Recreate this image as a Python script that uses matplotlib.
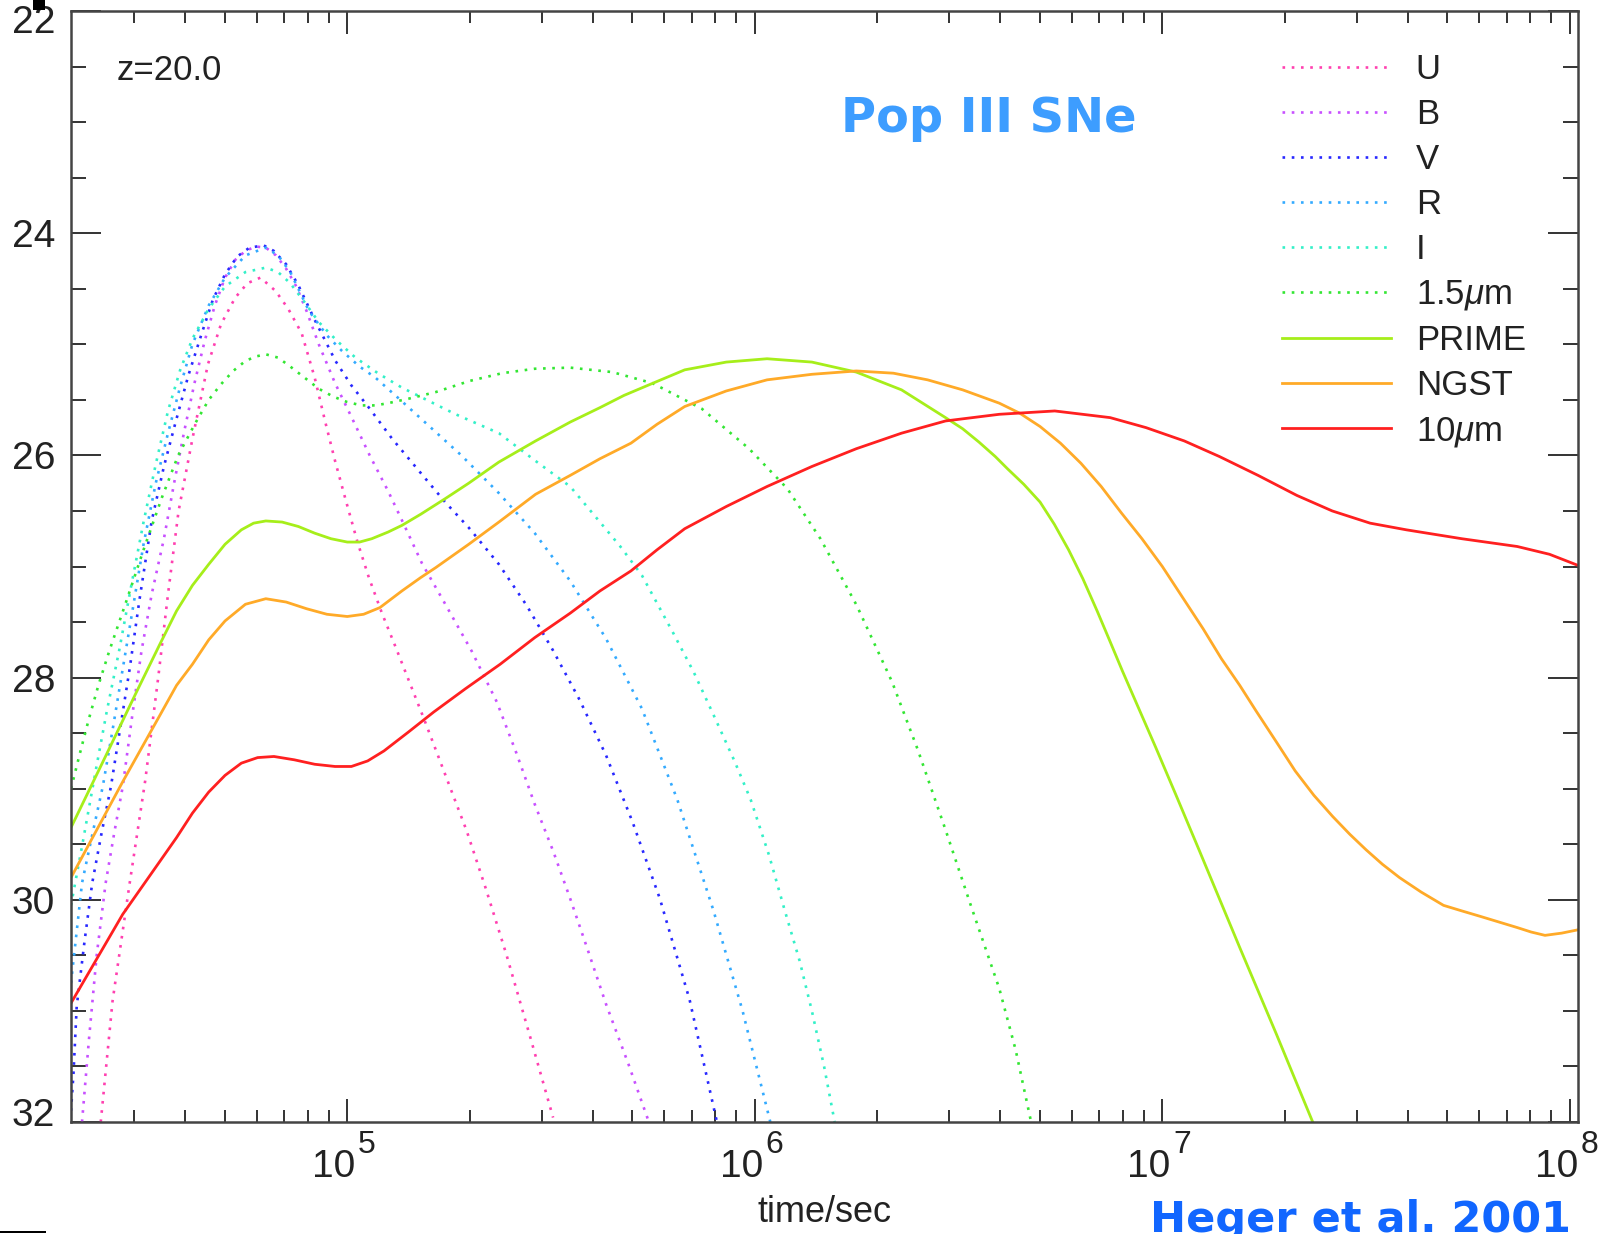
import numpy as np
import matplotlib
matplotlib.use("Agg")
import matplotlib.pyplot as plt
from matplotlib.ticker import LogLocator, MultipleLocator, NullFormatter
from matplotlib.transforms import blended_transform_factory, offset_copy, ScaledTranslation
from matplotlib.patches import Rectangle

plt.rcParams['font.family'] = ['Liberation Sans', 'DejaVu Sans']
plt.rcParams['mathtext.fontset'] = 'custom'
plt.rcParams['mathtext.rm'] = 'Liberation Sans'
plt.rcParams['mathtext.it'] = 'Liberation Sans:italic'

# light curves of a Pop III pair-instability SN at z=20
# x: log10(time / sec), y: apparent magnitude
u_logt = [4.395, 4.424, 4.466, 4.504, 4.536, 4.56, 4.586, 4.62, 4.658, 4.69, 4.725, 4.755,
          4.787, 4.824, 4.855, 4.888, 4.92, 4.946, 4.97, 4.996, 5.025, 5.053, 5.085, 5.118,
          5.188, 5.24, 5.293, 5.34, 5.391, 5.45, 5.505]
u_mag = [32.0, 30.91, 29.85, 28.93, 28.0, 27.25, 26.5, 25.85, 25.18, 24.82, 24.58, 24.45,
         24.40, 24.52, 24.68, 24.9, 25.3, 25.7, 26.05, 26.4, 26.78, 27.1, 27.42, 27.72,
         28.37, 28.87, 29.38, 29.9, 30.5, 31.25, 31.96]

b_logt = [4.349, 4.366, 4.385, 4.407, 4.428, 4.449, 4.472, 4.495, 4.52, 4.55, 4.575, 4.60,
          4.625, 4.65, 4.675, 4.70, 4.725, 4.75, 4.775, 4.80, 4.825, 4.85, 4.875, 4.90,
          4.93, 4.97, 5.011, 5.055, 5.10, 5.14, 5.183, 5.236, 5.305, 5.367, 5.415, 5.46,
          5.505, 5.547, 5.59, 5.635, 5.69, 5.74]
b_mag = [32.0, 31.26, 30.5, 29.85, 29.4, 28.98, 28.35, 27.76, 27.25, 26.75, 26.25, 25.78,
         25.35, 24.97, 24.65, 24.40, 24.24, 24.16, 24.12, 24.13, 24.2, 24.32, 24.48, 24.7,
         25.0, 25.35, 25.66, 26.0, 26.32, 26.63, 26.97, 27.31, 27.76, 28.22, 28.68, 29.14,
         29.56, 29.99, 30.45, 30.94, 31.48, 32.0]

v_logt = [4.322, 4.328, 4.336, 4.355, 4.374, 4.397, 4.42, 4.443, 4.466, 4.49, 4.52, 4.55,
          4.578, 4.61, 4.643, 4.67, 4.70, 4.73, 4.76, 4.795, 4.82, 4.85, 4.88, 4.92, 4.971,
          5.01, 5.053, 5.11, 5.176, 5.24, 5.298, 5.372, 5.44, 5.504, 5.57, 5.635, 5.70,
          5.767, 5.84, 5.907]
v_mag = [31.9, 31.57, 30.96, 30.38, 29.85, 29.4, 28.98, 28.45, 27.92, 27.3, 26.59, 26.1,
         25.71, 25.28, 24.90, 24.60, 24.37, 24.21, 24.13, 24.11, 24.16, 24.28, 24.47, 24.78,
         25.15, 25.37, 25.57, 25.85, 26.14, 26.42, 26.65, 26.98, 27.35, 27.75, 28.2, 28.70,
         29.3, 29.99, 30.9, 32.0]

r_logt = [4.322, 4.349, 4.375, 4.40, 4.425, 4.449, 4.475, 4.50, 4.53, 4.56, 4.59, 4.62,
          4.66, 4.70, 4.75, 4.80, 4.83, 4.86, 4.906, 4.95, 4.987, 5.03, 5.069, 5.13, 5.19,
          5.28, 5.372, 5.46, 5.547, 5.635, 5.723, 5.81, 5.898, 5.97, 6.038]
r_mag = [30.75, 29.85, 29.4, 28.98, 28.45, 27.92, 27.35, 26.8, 26.25, 25.8, 25.38, 25.0,
         24.65, 24.4, 24.2, 24.13, 24.2, 24.35, 24.70, 24.92, 25.06, 25.2, 25.30, 25.50,
         25.70, 26.0, 26.34, 26.7, 27.13, 27.65, 28.28, 29.1, 30.09, 31.0, 32.0]

i_logt = [4.322, 4.35, 4.383, 4.41, 4.44, 4.47, 4.50, 4.53, 4.56, 4.59, 4.62, 4.66, 4.70,
          4.75, 4.80, 4.83, 4.86, 4.895, 4.93, 4.975, 5.02, 5.075, 5.134, 5.20, 5.266, 5.372,
          5.462, 5.547, 5.62, 5.67, 5.723, 5.80, 5.85, 5.898, 5.95, 5.99, 6.035, 6.073, 6.11,
          6.14, 6.17, 6.196]
i_mag = [30.05, 29.5, 28.83, 28.3, 27.76, 27.17, 26.6, 26.08, 25.6, 25.23, 24.95, 24.68,
         24.48, 24.35, 24.31, 24.35, 24.45, 24.62, 24.8, 24.97, 25.12, 25.26, 25.39, 25.51,
         25.63, 25.80, 26.05, 26.28, 26.6, 26.82, 27.08, 27.6, 27.95, 28.33, 28.75, 29.1,
         29.6, 30.09, 30.55, 31.0, 31.5, 32.0]

h_logt = [4.322, 4.344, 4.366, 4.39, 4.416, 4.458, 4.50, 4.545, 4.585, 4.627, 4.66, 4.69,
          4.72, 4.75, 4.775, 4.80, 4.83, 4.86, 4.895, 4.93, 4.965, 5.0, 5.035, 5.069, 5.10,
          5.15, 5.217, 5.30, 5.38, 5.46, 5.547, 5.65, 5.749, 5.87, 5.986, 6.08, 6.161, 6.25,
          6.337, 6.40, 6.468, 6.53, 6.60, 6.64, 6.678]
h_mag = [29.0, 28.68, 28.37, 28.06, 27.76, 27.31, 26.85, 26.38, 26.0, 25.71, 25.5, 25.36,
         25.24, 25.15, 25.11, 25.09, 25.12, 25.2, 25.3, 25.4, 25.47, 25.52, 25.55, 25.55, 25.53,
         25.49, 25.43, 25.33, 25.26, 25.22, 25.21, 25.25, 25.35, 25.58, 25.94, 26.3, 26.75,
         27.35, 28.04, 28.65, 29.37, 30.05, 30.80, 31.35, 32.0]

prime_logt = [4.322, 4.40, 4.48, 4.54, 4.581, 4.62, 4.66, 4.70, 4.74, 4.77, 4.80, 4.84,
              4.88, 4.92, 4.96, 5.00, 5.03, 5.06, 5.10, 5.134, 5.18, 5.24, 5.298, 5.372,
              5.462, 5.547, 5.62, 5.679, 5.75, 5.828, 5.93, 6.03, 6.14, 6.249, 6.36, 6.468,
              6.51, 6.55, 6.59, 6.62, 6.66, 6.70, 6.735, 6.77, 6.805, 6.84, 6.87, 6.902,
              6.94, 6.984, 7.035, 7.09, 7.14, 7.19, 7.235, 7.28, 7.325, 7.369]
prime_mag = [29.35, 28.76, 28.15, 27.70, 27.40, 27.17, 26.98, 26.80, 26.67, 26.61, 26.59,
             26.60, 26.64, 26.70, 26.75, 26.78, 26.78, 26.75, 26.69, 26.63, 26.53, 26.39,
             26.25, 26.06, 25.87, 25.70, 25.57, 25.46, 25.35, 25.23, 25.16, 25.13, 25.16,
             25.25, 25.41, 25.66, 25.76, 25.88, 26.01, 26.12, 26.26, 26.42, 26.62, 26.85,
             27.11, 27.40, 27.66, 27.94, 28.26, 28.63, 29.07, 29.55, 29.99, 30.43, 30.82,
             31.21, 31.61, 32.0]

ngst_logt = [4.322, 4.45, 4.54, 4.581, 4.62, 4.66, 4.70, 4.75, 4.80, 4.85, 4.90, 4.95,
             5.00, 5.04, 5.08, 5.134, 5.18, 5.217, 5.298, 5.372, 5.462, 5.547, 5.62, 5.696,
             5.76, 5.828, 5.93, 6.03, 6.14, 6.249, 6.34, 6.424, 6.51, 6.60, 6.65, 6.70,
             6.75, 6.80, 6.85, 6.90, 6.95, 7.00, 7.05, 7.10, 7.145, 7.19, 7.23, 7.28, 7.326,
             7.372, 7.418, 7.46, 7.50, 7.54, 7.582, 7.635, 7.69, 7.735, 7.781, 7.826, 7.871,
             7.905, 7.939, 7.98, 8.02]
ngst_mag = [29.80, 28.93, 28.34, 28.07, 27.88, 27.66, 27.49, 27.34, 27.29, 27.32, 27.38,
            27.43, 27.45, 27.43, 27.37, 27.22, 27.10, 27.01, 26.80, 26.60, 26.35, 26.18,
            26.03, 25.89, 25.72, 25.56, 25.42, 25.32, 25.27, 25.24, 25.26, 25.32, 25.41,
            25.53, 25.62, 25.74, 25.89, 26.07, 26.28, 26.52, 26.75, 27.00, 27.28, 27.56,
            27.83, 28.07, 28.30, 28.58, 28.84, 29.06, 29.25, 29.41, 29.55, 29.68, 29.80,
            29.93, 30.05, 30.10, 30.15, 30.20, 30.25, 30.29, 30.32, 30.30, 30.27]

mir_logt = [4.322, 4.449, 4.581, 4.62, 4.66, 4.70, 4.74, 4.78, 4.82, 4.87, 4.92, 4.97,
            5.01, 5.05, 5.09, 5.15, 5.212, 5.29, 5.375, 5.46, 5.547, 5.62, 5.696, 5.76,
            5.828, 5.93, 6.03, 6.14, 6.249, 6.36, 6.468, 6.60, 6.736, 6.872, 6.96, 7.054,
            7.14, 7.235, 7.33, 7.417, 7.51, 7.599, 7.735, 7.871, 7.95, 8.02]
mir_mag = [30.93, 30.13, 29.44, 29.22, 29.03, 28.88, 28.77, 28.72, 28.71, 28.74, 28.78,
           28.80, 28.80, 28.75, 28.66, 28.49, 28.31, 28.10, 27.88, 27.64, 27.42, 27.22,
           27.04, 26.85, 26.66, 26.46, 26.28, 26.10, 25.94, 25.80, 25.69, 25.63, 25.60,
           25.66, 25.75, 25.87, 26.01, 26.18, 26.36, 26.50, 26.61, 26.67, 26.75, 26.82,
           26.89, 26.99]

labels = ['U', 'B', 'V', 'R', 'I', r'1.5$\mu$m', 'PRIME', 'NGST', r'10$\mu$m']
colors = ['#ff40b0', '#c850ff', '#2828ff', '#33aaff', '#33f0c8', '#33e633',
          '#a6ee1a', '#ffaa28', '#ff2020']
curves = [(u_logt, u_mag), (b_logt, b_mag), (v_logt, v_mag), (r_logt, r_mag),
          (i_logt, i_mag), (h_logt, h_mag), (prime_logt, prime_mag),
          (ngst_logt, ngst_mag), (mir_logt, mir_mag)]
dotted = [True] * 6 + [False] * 3
decades = [5, 6, 7, 8]

fig = plt.figure(figsize=(16.17, 12.34), dpi=100)
ax = fig.add_axes([71 / 1617, 1 - 1122 / 1234, (1578 - 71) / 1617, (1122 - 11) / 1234])

handles = []
for (lt, mag), col, lab, dot in zip(curves, colors, labels, dotted):
    t = 10 ** np.asarray(lt)
    if dot:
        ln, = ax.plot(t, mag, color=col, lw=1.9, ls=(0, (1, 2.5)), label=lab)
    else:
        ln, = ax.plot(t, mag, color=col, lw=2.0, label=lab)
    handles.append(ln)

ax.set_xscale('log')
ax.set_xlim(10 ** 4.322, 10 ** 8.02)
ax.set_ylim(32, 22)

# x labels: "10" on the tick, exponent drawn as a large superscript
ax.set_xticks([10.0 ** d for d in decades])
ax.set_xticklabels(['10'] * len(decades))
for lab in ax.get_xticklabels():
    lab.set_ha('right')
ax.xaxis.set_minor_locator(LogLocator(base=10, subs=np.arange(2, 10), numticks=20))
ax.xaxis.set_minor_formatter(NullFormatter())
sup_tr = offset_copy(blended_transform_factory(ax.transData, ax.transAxes), fig=fig,
                     x=7.7, y=0, units='points')
for d in decades:
    ax.text(10.0 ** d, -0.028, str(d), transform=sup_tr, fontsize=23,
            color='#222222', ha='left', va='baseline')

ax.set_yticks(np.arange(22, 33, 2))
ax.yaxis.set_minor_locator(MultipleLocator(0.5))

ax.tick_params(which='both', direction='in', top=True, right=True,
               color='#333333', width=1.4, labelcolor='#222222', labelsize=28)
ax.tick_params(axis='x', which='major', length=16.5, pad=8)
ax.tick_params(axis='x', which='minor', length=8.5)
ax.tick_params(axis='y', which='major', length=21.5, pad=11.5)
ax.tick_params(axis='y', which='minor', length=11)
for sp in ax.spines.values():
    sp.set_color('#444444')
    sp.set_linewidth(1.8)

shift_x = ScaledTranslation(6 / 72, -11.5 / 72, fig.dpi_scale_trans)
for tk in ax.xaxis.get_major_ticks():
    tk.label1.set_transform(tk.label1.get_transform() + shift_x)

# keep the end labels of the magnitude axis inside the frame
yt = ax.yaxis.get_major_ticks()
yt[0].label1.set_transform(yt[0].label1.get_transform()
                           + ScaledTranslation(0, -5.5 / 72, fig.dpi_scale_trans))
yt[-1].label1.set_transform(yt[-1].label1.get_transform()
                            + ScaledTranslation(0, 7 / 72, fig.dpi_scale_trans))

ax.set_xlabel('time/sec', fontsize=26, color='#222222')
ax.xaxis.set_label_coords(0.5, -0.066)

ax.text((117 - 71) / 1507, (1122 - 80) / 1111, 'z=20.0', transform=ax.transAxes,
        fontsize=25, color='#222222', ha='left', va='baseline')

ax.legend(handles=handles, loc='upper left', bbox_to_anchor=(1282 / 1617, 1 - 53 / 1234),
          bbox_transform=fig.transFigure, frameon=False, borderpad=0, borderaxespad=0,
          handlelength=3.15, handletextpad=0.7, labelspacing=0.345, fontsize=25,
          labelcolor='#222222')

fig.text(841 / 1617, 1 - 131.7 / 1234, 'Pop III SNe', fontsize=34.5, fontweight='bold',
         family='DejaVu Sans', color='#3d9dff', ha='left', va='baseline')
fig.text(1150 / 1617, 1 - 1232 / 1234, 'Heger et al. 2001', fontsize=31, fontweight='bold',
         family='DejaVu Sans', color='#1166ff', ha='left', va='baseline')

# slide marks at the corners
fig.add_artist(Rectangle((33 / 1617, 1 - 10 / 1234), 12 / 1617, 10 / 1234,
                         transform=fig.transFigure, color='black', lw=0))
fig.add_artist(Rectangle((0, 1 - 1233 / 1234), 46 / 1617, 2 / 1234,
                         transform=fig.transFigure, color='black', lw=0))

fig.savefig('out.png', dpi=100)
